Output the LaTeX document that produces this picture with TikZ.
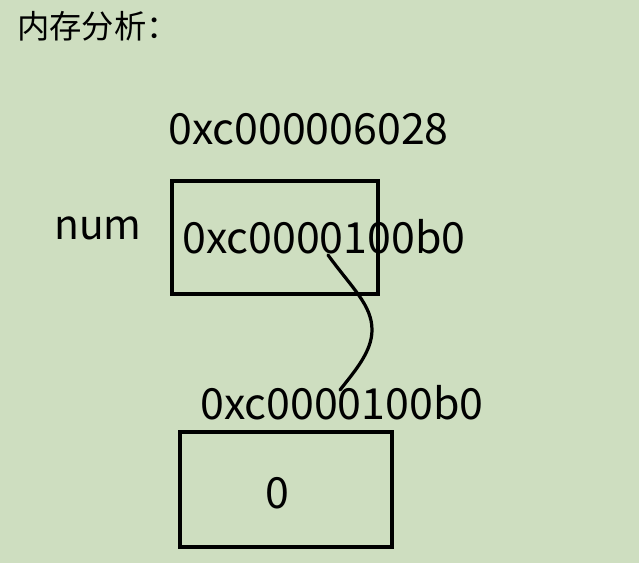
\documentclass[tikz,border=0pt]{standalone}
\usepackage{fontspec}
\setmainfont{Noto Sans CJK SC}
\usepackage{xcolor}
\usetikzlibrary{positioning}
\definecolor{eyegreen}{RGB}{206,222,192}
\tikzstyle{cell}  = [rectangle, draw=black, line width=2.5pt, inner sep=0pt]
\tikzstyle{addr}  = [inner sep=0pt, anchor=base west, font=\fontsize{30.5pt}{36pt}\selectfont]
\tikzstyle{link}  = [line width=2.3pt, line cap=round]

\begin{document}
\begin{tikzpicture}[x=0.025cm, y=-0.025cm]
  % background
  \fill[eyegreen] (0,0) rectangle (639,563);
  \useasboundingbox (0,0) rectangle (639,563);

  \node[addr, font=\fontsize{23pt}{27pt}\selectfont] (title) at (17,39) {内存分析：};

  % variable num
  \node[cell, minimum width=5.15cm, minimum height=2.825cm] (numbox) at (275,237.5) {};
  \node[addr] (numaddr) at (168,145) {0xc000006028};
  \node[addr, font=\fontsize{29pt}{34pt}\selectfont] (numname) at (54,240) {num};
  \node[addr] (numval)  at (182,254) {0xc0000100b0};

  % pointed value
  \node[cell, minimum width=5.3cm, minimum height=2.875cm] (valbox) at (286,489.5) {};
  \node[addr] (valaddr) at (200,420) {0xc0000100b0};
  \node[addr] (valzero) at (265,509) {0};

  % pointer
  \coordinate (ptrstart) at (328,255);
  \coordinate (ptrmid)   at (372,330);
  \coordinate (ptrend)   at (340,390);
  \draw[link] (ptrstart) .. controls (352,288) and (372,305) .. (ptrmid)
              .. controls (372,352) and (354,372) .. (ptrend);
\end{tikzpicture}
\end{document}
